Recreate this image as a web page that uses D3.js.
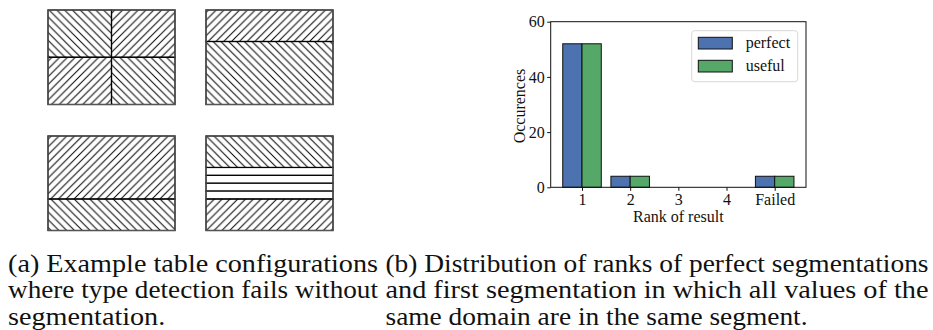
<!DOCTYPE html>
<html>
<head>
<meta charset="utf-8">
<script src="https://cdn.jsdelivr.net/npm/d3@7"></script>
<style>
  body { margin: 0; background: #fff; }
  svg { display: block; }
  text { font-family: "Liberation Serif", "DejaVu Serif", serif; fill: #111; }
</style>
</head>
<body>
<div id="fig"></div>
<script>
// ---- data ----
// (a) table layouts: cells in unit coords, hatch = 'back' (\\), 'fwd' (//) or 'none'
const tableA = [[0, 0, 0.5, 0.5, 'back'], [0.5, 0, 1, 0.5, 'fwd'], [0, 0.5, 0.5, 1, 'fwd'], [0.5, 0.5, 1, 1, 'back']];
const tableB = [[0, 0, 1, 1 / 3, 'fwd'], [0, 1 / 3, 1, 1, 'back']];
const tableC = [[0, 0, 1, 2 / 3, 'fwd'], [0, 2 / 3, 1, 1, 'back']];
const tableD = [[0, 0, 1, 1 / 3, 'back'], [0, 1 / 3, 1, 5 / 12, 'none'], [0, 5 / 12, 1, 1 / 2, 'none'],
  [0, 1 / 2, 1, 7 / 12, 'none'], [0, 7 / 12, 1, 2 / 3, 'none'], [0, 2 / 3, 1, 1, 'fwd']];
const tables = [tableA, tableB, tableC, tableD];

// (b) bar chart
const categories = ['1', '2', '3', '4', 'Failed'];
const perfect = [52, 4, 0, 0, 4];
const useful = [52, 4, 0, 0, 4];
const yTicks = [0, 20, 40, 60];
const seriesNames = ['perfect', 'useful'];

const captionA = ['(a) Example table configurations', 'where type detection fails without', 'segmentation.'];
const captionB = ['(b) Distribution of ranks of perfect segmentations', 'and first segmentation in which all values of the',
  'same domain are in the same segment.'];

const W = 933, H = 330;
const svg = d3.select('#fig').append('svg').attr('width', W).attr('height', H);

// hatch patterns
const defs = svg.append('defs');
const step = 7.8;
defs.append('pattern').attr('id', 'hatch-back')
  .attr('patternUnits', 'userSpaceOnUse').attr('width', step).attr('height', step)
  .append('path')
  .attr('d', `M0,0L${step},${step}M${-step / 2},${step / 2}L${step / 2},${step * 1.5}M${step / 2},${-step / 2}L${step * 1.5},${step / 2}`)
  .attr('stroke', '#000').attr('stroke-width', 1);
defs.append('pattern').attr('id', 'hatch-fwd')
  .attr('patternUnits', 'userSpaceOnUse').attr('width', step).attr('height', step)
  .append('path')
  .attr('d', `M0,${step}L${step},0M${-step / 2},${step / 2}L${step / 2},${-step / 2}M${step / 2},${step * 1.5}L${step * 1.5},${step / 2}`)
  .attr('stroke', '#000').attr('stroke-width', 1);

// ---- (a) table diagrams ----
const tblW = 127, tblH = 94.5;
const tblX = [48, 206], tblY = [10, 136];

tables.forEach((cells, i) => {
  const x0 = tblX[i % 2], y0 = tblY[Math.floor(i / 2)];
  const sx = d3.scaleLinear().domain([0, 1]).range([x0, x0 + tblW]);
  const sy = d3.scaleLinear().domain([0, 1]).range([y0, y0 + tblH]);
  const g = svg.append('g');

  g.selectAll('rect.cell')
    .data(cells)
    .enter()
    .append('rect')
    .attr('class', 'cell')
    .attr('x', d => sx(d[0]))
    .attr('y', d => sy(d[1]))
    .attr('width', d => sx(d[2]) - sx(d[0]))
    .attr('height', d => sy(d[3]) - sy(d[1]))
    .attr('fill', d => d[4] === 'none' ? '#fff' : `url(#hatch-${d[4]})`)
    .attr('stroke', '#000')
    .attr('stroke-width', 1.2);

  // outer frame
  g.append('rect')
    .attr('x', sx(0)).attr('y', sy(0))
    .attr('width', tblW).attr('height', tblH)
    .attr('fill', 'none')
    .attr('stroke', '#555')
    .attr('stroke-width', 1.3);
});

// ---- (b) bar chart ----
const pLeft = 550.7, pRight = 806, pTop = 21.7, pBottom = 187.3;
const x = d3.scaleLinear().domain([-0.65, 4.65]).range([pLeft, pRight]);
const y = d3.scaleLinear().domain([0, 60]).range([pBottom, pTop]);
const barW = 0.4;

const chart = svg.append('g');

const series = [
  { name: seriesNames[0], values: perfect, color: '#4c72b0', off: -barW },
  { name: seriesNames[1], values: useful, color: '#55a868', off: 0 }
];

series.forEach(s => {
  chart.selectAll(null)
    .data(s.values)
    .enter()
    .append('rect')
    .attr('x', (d, i) => x(i + s.off))
    .attr('y', d => y(d))
    .attr('width', x(barW) - x(0))
    .attr('height', d => y(0) - y(d))
    .attr('fill', s.color)
    .attr('stroke', '#111')
    .attr('stroke-width', 1);
});

// axes
const xAxis = d3.axisBottom(x)
  .tickValues(d3.range(categories.length))
  .tickFormat(i => categories[i])
  .tickSize(3.5).tickPadding(2.8);
const gX = chart.append('g')
  .attr('transform', `translate(0,${pBottom})`)
  .call(xAxis);

const yAxis = d3.axisLeft(y).tickValues(yTicks).tickSize(3.5).tickPadding(2.5);
const gY = chart.append('g')
  .attr('transform', `translate(${pLeft},0)`)
  .call(yAxis);

[gX, gY].forEach(g => {
  g.select('.domain').remove();
  g.selectAll('.tick line').attr('stroke', '#111').attr('stroke-width', 1);
  g.selectAll('.tick text')
    .style('font-family', '"Liberation Serif", serif')
    .style('font-size', '16px')
    .attr('fill', '#111');
});

// spines
chart.append('rect')
  .attr('x', pLeft).attr('y', pTop)
  .attr('width', pRight - pLeft).attr('height', pBottom - pTop)
  .attr('fill', 'none')
  .attr('stroke', '#111')
  .attr('stroke-width', 1);

// axis labels
chart.append('text')
  .attr('x', (pLeft + pRight) / 2).attr('y', 221.5)
  .attr('text-anchor', 'middle')
  .style('font-size', '16px')
  .text('Rank of result');

chart.append('text')
  .attr('transform', 'translate(525,106) rotate(-90)')
  .attr('text-anchor', 'middle')
  .style('font-size', '16px')
  .text('Occurences');

// legend
const legend = chart.append('g');
legend.append('rect')
  .attr('x', 691.7).attr('y', 30.7)
  .attr('width', 106).attr('height', 51)
  .attr('rx', 3)
  .attr('fill', '#fff').attr('fill-opacity', 0.8)
  .attr('stroke', '#d8d8d8');

const li = legend.selectAll('g.item')
  .data(series)
  .enter()
  .append('g')
  .attr('transform', (d, i) => `translate(698.3,${37.3 + i * 23})`);
li.append('rect')
  .attr('width', 34).attr('height', 11.7)
  .attr('fill', d => d.color)
  .attr('stroke', '#111');
li.append('text')
  .attr('x', 47.4).attr('y', 11)
  .style('font-size', '16px')
  .text(d => d.name);

// ---- captions ----
function caption(lines, x0, x1) {
  const g = svg.append('g');
  const t = g.selectAll('text')
    .data(lines)
    .enter()
    .append('text')
    .attr('x', x0)
    .attr('y', (d, i) => 272 + i * 26.3)
    .style('font-size', '26px')
    .text(d => d);
  // justify the first two lines like LaTeX, keep the same stretch on the last line
  const nodes = t.nodes();
  const ratio = (x1 - x0) / nodes[0].getComputedTextLength();
  nodes.forEach((n, i) => {
    const len = i < lines.length - 1 ? (x1 - x0) : n.getComputedTextLength() * ratio;
    d3.select(n).attr('textLength', len).attr('lengthAdjust', 'spacingAndGlyphs');
  });
}
caption(captionA, 8, 378);
caption(captionB, 385.5, 928.5);
</script>
</body>
</html>
